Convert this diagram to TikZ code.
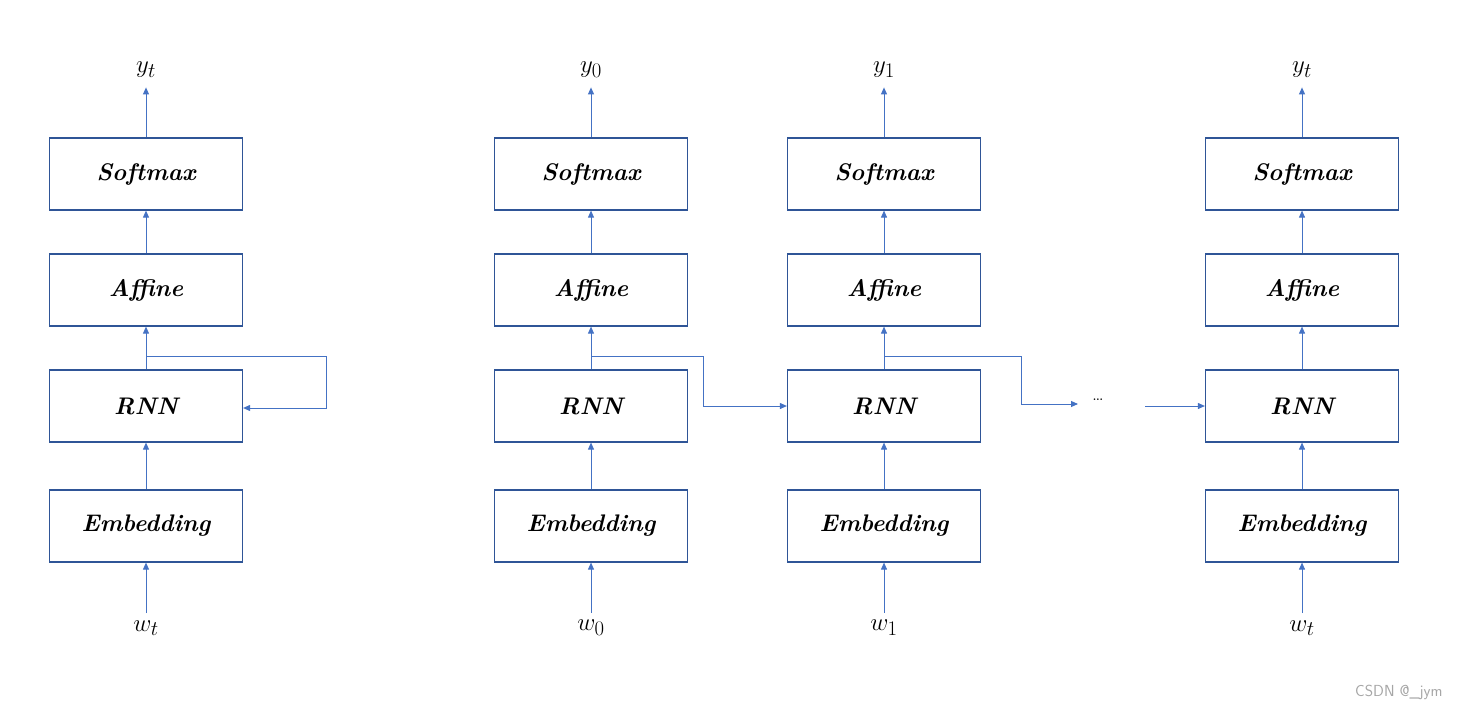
\documentclass[tikz,border=0pt]{standalone}
\usepackage{fontspec}
\usetikzlibrary{arrows.meta}
\definecolor{boxc}{HTML}{2F5597}
\definecolor{arr}{HTML}{4472C4}
\begin{document}
\begin{tikzpicture}[x=1pt,y=-1pt,
  box/.style={draw=boxc,line width=1.2pt,minimum width=193pt,minimum height=72pt,inner sep=0pt,font=\fontsize{24}{28}\selectfont\bfseries\itshape},
  lab/.style={font=\fontsize{32}{38}\selectfont},
  ar/.style={draw=arr,line width=0.9pt,-{Triangle[length=7pt,width=6pt]}}]
\useasboundingbox (0,0) rectangle (1460,712);
\foreach \c/\x/\i/\o in {a/146/t/t,b/591/0/0,c/884/1/1,d/1302/t/t}{
  \node[box] (\c s) at (\x,174) {Softmax};
  \node[box] (\c a) at (\x,290) {Affine};
  \node[box] (\c r) at (\x,406) {RNN};
  \node[box] (\c e) at (\x,526) {Embedding};
  \node[lab] (\c y) at (\x,70) {$y_{\o}$};
  \node[lab] (\c w) at (\x,628) {$w_{\i}$};
  \draw[ar] (\c w.north) ++(0,-4) coordinate (\c wt) -- (\c e.south);
  \draw[ar] (\c e) -- (\c r);
  \draw[ar] (\c r) -- (\c a);
  \draw[ar] (\c a) -- (\c s);
  \draw[ar] (\c s.north) -- ++(0,-50) coordinate (\c top);
}
\coordinate (a1) at (146,356);
\draw[ar] (a1) -- (326,356) -- (326,408) -- (ar.east |- 0,408);
\coordinate (b1) at (591,356);
\draw[ar] (b1) -- (703,356) -- (703,406) -- (cr.west);
\coordinate (c1) at (884,356);
\node (dots) at (1098,400) {\fontsize{20}{24}\selectfont\dots};
\draw[ar] (c1) -- (1021,356) -- (1021,404) -- (1078,404);
\coordinate (d0) at (1145,406);
\draw[ar] (d0) -- (dr.west);
\node[text=gray!70,font=\fontsize{16}{18}\selectfont\sffamily,anchor=east] (wm) at (1446,692) {CSDN @\_jym};
\end{tikzpicture}
\end{document}
